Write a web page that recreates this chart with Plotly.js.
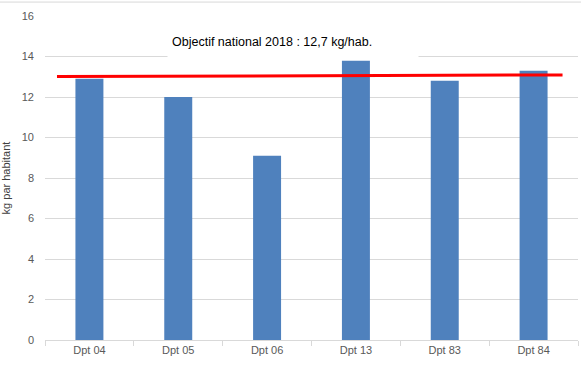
<!DOCTYPE html>
<html>
<head>
<meta charset="utf-8">
<script src="https://cdn.plot.ly/plotly-3.0.1.min.js"></script>
<style>html,body{margin:0;padding:0;background:#fff;}#chart{width:581px;height:366px;}</style>
</head>
<body>
<div id="chart"></div>
<script>
var categories = ["Dpt 04", "Dpt 05", "Dpt 06", "Dpt 13", "Dpt 83", "Dpt 84"];
var values = [12.9, 12.0, 9.1, 13.8, 12.8, 13.3];
var objectiveLineY = [13.01, 13.09];
var objectiveText = "Objectif national 2018 : 12,7 kg/hab.";
var yTicks = [0, 2, 4, 6, 8, 10, 12, 14, 16];

var trace = {
  type: "bar",
  x: categories,
  y: values,
  marker: {color: "#4f81bd"},
  hoverinfo: "x+y"
};

var layout = {
  width: 581,
  height: 366,
  margin: {l: 45, r: 3, t: 16, b: 26, pad: 0},
  paper_bgcolor: "#ffffff",
  plot_bgcolor: "#ffffff",
  bargap: 0.685,
  showlegend: false,
  font: {family: "Liberation Sans, Arial, sans-serif", size: 11, color: "#595959"},
  xaxis: {
    type: "category",
    showgrid: false,
    showline: true,
    linecolor: "#d9d9d9",
    linewidth: 1,
    ticks: "outside",
    tickson: "boundaries",
    ticklen: 5,
    tickcolor: "#d9d9d9",
    tickfont: {size: 11, color: "#595959"},
    zeroline: false,
    fixedrange: true
  },
  yaxis: {
    range: [0, 16],
    tickvals: yTicks,
    showgrid: true,
    gridcolor: "#d9d9d9",
    gridwidth: 1,
    zeroline: false,
    showline: false,
    ticks: "",
    ticklabelstandoff: 10,
    tickfont: {size: 11, color: "#595959"},
    title: {text: "kg par habitant", font: {size: 11, color: "#404040"}, standoff: 9},
    fixedrange: true
  },
  shapes: [
    {
      type: "line", xref: "paper", yref: "y",
      x0: 0.0225, x1: 0.971,
      y0: objectiveLineY[0], y1: objectiveLineY[1],
      line: {color: "#ff0000", width: 3},
      layer: "above"
    },
    {
      type: "line", xref: "paper", yref: "paper",
      x0: -0.09, x1: 1.01, y0: 1.043, y1: 1.043,
      line: {color: "#d9d9d9", width: 1},
      layer: "above"
    }
  ],
  annotations: [
    {
      xref: "paper", yref: "paper",
      x: 0.2287, xanchor: "left",
      y: 0.92, yanchor: "middle",
      text: objectiveText,
      showarrow: false,
      align: "left",
      width: 242,
      height: 28,
      borderpad: 4,
      bgcolor: "#ffffff",
      font: {family: "Liberation Sans, Arial, sans-serif", size: 12.5, color: "#000000"}
    }
  ]
};

Plotly.newPlot("chart", [trace], layout, {displayModeBar: false, staticPlot: true});
</script>
</body>
</html>
